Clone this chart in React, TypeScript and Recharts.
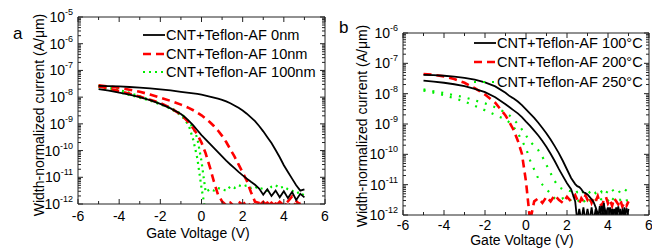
import React from "react";
import { LineChart, Line, XAxis, YAxis, Legend } from "recharts";

const font = "'Liberation Sans', Arial, sans-serif";
const axisColor = "#222";

// gate voltage sweep points (V)
const voltsA = [-5, -4.5, -4, -3.5, -3, -2.5, -2, -1.5, -1, -0.8, -0.6, -0.4, -0.2, 0, 0.2, 0.4, 0.6, 0.8, 1, 1.2, 1.4, 1.6, 1.8, 2, 2.2, 2.4, 2.6, 2.8, 3, 3.2, 3.4, 3.6, 3.8, 4, 4.2, 4.4, 4.6, 4.8, 5];

// log10 of current (A/um) -- panel a
const a0nmUp = [-7.58, -7.59, -7.6, -7.62, -7.64, -7.67, -7.71, -7.75, -7.8, -7.82, -7.84, -7.86, -7.88, -7.91, -7.94, -7.98, -8.02, -8.06, -8.1, -8.16, -8.23, -8.31, -8.4, -8.5, -8.62, -8.76, -8.9, -9.08, -9.28, -9.5, -9.72, -9.98, -10.25, -10.55, -10.8, -11.05, -11.3, -11.5, -11.45];
const a0nmDown = [-7.7, -7.76, -7.83, -7.91, -8.0, -8.11, -8.25, -8.42, -8.63, -8.75, -8.9, -9.06, -9.24, -9.42, -9.58, -9.74, -9.9, -10.06, -10.22, -10.38, -10.52, -10.66, -10.8, -10.93, -11.05, -11.17, -11.28, -11.42, -11.65, -11.45, -11.7, -11.5, -11.75, -11.52, -11.78, -11.55, -11.85, -11.62, -11.75];
const a10nmUp = [-7.56, -7.6, -7.65, -7.72, -7.8, -7.9, -8.02, -8.14, -8.28, -8.34, -8.41, -8.49, -8.58, -8.68, -8.8, -8.93, -9.08, -9.25, -9.45, -9.68, -9.95, -10.22, -10.52, -10.82, -11.13, -11.55, -11.92, -11.96, -12.05, -11.95, -12.1, -11.98, -12.05, -11.95, -12.1, -11.92, -12.05, -11.97, -11.92];
const a10nmDown = [-7.6, -7.68, -7.77, -7.87, -7.98, -8.1, -8.22, -8.4, -8.66, -8.8, -8.97, -9.17, -9.4, -9.7, -10.1, -10.6, -11.15, -11.65, -11.9, -12.05, -11.95, -12.1, -11.92, -12.02, -11.9, -12.1, -11.98, -12.05, -11.92, -12.1, -11.95, -12.08, -11.92, -12.05, -11.9, -11.72, -11.88, -12.05, -11.9];
const a100nmUp = [-7.56, -7.63, -7.73, -7.84, -7.97, -8.1, -8.24, -8.4, -8.62, -8.76, -8.94, -9.15, -9.55, -10.4, -11.55, -11.45, -11.5, -11.4, -11.45, -11.5, -11.35, -11.4, -11.3, -11.35, -11.3, -11.4, -11.35, -11.45, -11.4, -11.5, -11.35, -11.3, -11.4, -11.35, -11.45, -11.5, -11.6, -11.55, -11.7];
const a100nmDown = [-7.62, -7.72, -7.82, -7.92, -8.02, -8.13, -8.27, -8.43, -8.68, -8.85, -9.1, -9.6, -10.3, -11.4, -12.3, -12.2, -12.25, -12.1, -12.2, -12.15, -12.25, -12.1, -12.2, -12.3, -12.15, -12.2, -12.1, -12.25, -12.2, -12.15, -12.3, -12.2, -12.1, -12.25, -12.2, -12.15, -11.95, -12.2, -12.1];

const voltsB = [-5, -4.5, -4, -3.5, -3, -2.5, -2, -1.5, -1, -0.8, -0.6, -0.4, -0.2, 0, 0.2, 0.4, 0.6, 0.8, 1, 1.2, 1.4, 1.6, 1.8, 2, 2.2, 2.4, 2.5, 2.6, 2.7, 2.8, 2.9, 3, 3.1, 3.2, 3.3, 3.4, 3.5, 3.6, 3.7, 3.8, 3.9, 4, 4.1, 4.2, 4.3, 4.4, 4.5, 4.6, 4.7, 4.8, 4.9, 5];

// panel b
const b100Up = [-7.38, -7.39, -7.41, -7.44, -7.48, -7.54, -7.63, -7.76, -7.97, -8.08, -8.16, -8.26, -8.38, -8.52, -8.66, -8.8, -8.96, -9.13, -9.31, -9.51, -9.73, -9.96, -10.22, -10.5, -10.78, -10.98, -11.05, -11.08, -11.15, -11.25, -11.28, -11.32, -11.4, -11.48, -11.58, -11.75, -11.95, -12.1, -11.7, -12.1, -11.85, -12.1, -11.75, -12.1, -11.8, -12.1, -11.72, -12.1, -11.85, -12.1, -11.78, -12.05];
const b100Down = [-7.57, -7.6, -7.64, -7.69, -7.75, -7.84, -7.95, -8.12, -8.35, -8.45, -8.55, -8.65, -8.77, -8.92, -9.06, -9.22, -9.38, -9.56, -9.76, -9.98, -10.22, -10.48, -10.72, -10.95, -11.15, -11.55, -12.2, -11.8, -12.2, -11.75, -12.2, -11.8, -12.2, -11.75, -12.2, -11.8, -12.2, -11.7, -12.2, -11.6, -12.2, -11.75, -12.2, -11.8, -12.2, -11.75, -12.2, -11.8, -12.2, -11.75, -12.2, -11.8];
const b200 = [-7.35, -7.38, -7.43, -7.52, -7.64, -7.82, -8.03, -8.3, -8.72, -8.95, -9.2, -9.55, -9.98, -10.9, -12.2, -11.55, -11.45, -11.6, -11.4, -11.55, -11.35, -11.5, -11.6, -11.4, -11.55, -11.35, -11.5, -11.62, -11.45, -11.55, -11.35, -11.5, -11.4, -11.6, -11.45, -11.55, -11.38, -11.6, -11.7, -11.5, -11.4, -11.62, -11.5, -11.7, -11.45, -11.55, -11.65, -11.5, -11.72, -11.6, -11.7, -11.55];
const b250Up = [-7.86, -7.92, -7.98, -8.05, -8.12, -8.22, -8.32, -8.45, -8.62, -8.72, -8.85, -9.0, -9.18, -9.38, -9.58, -9.72, -9.86, -10.08, -10.35, -10.62, -10.88, -11.08, -11.15, -11.18, -11.22, -11.15, -11.25, -11.2, -11.15, -11.28, -11.22, -11.18, -11.25, -11.15, -11.22, -11.28, -11.2, -11.15, -11.25, -11.2, -11.3, -11.18, -11.22, -11.15, -11.25, -11.2, -11.18, -11.28, -11.22, -11.15, -11.2, -11.25];
const b250Down = [-7.9, -7.97, -8.05, -8.15, -8.26, -8.4, -8.55, -8.7, -8.85, -8.95, -9.1, -9.3, -9.55, -9.8, -10.2, -10.5, -10.8, -11.0, -11.15, -11.3, -11.45, -11.5, -11.45, -11.55, -11.5, -11.45, -11.5, -11.55, -11.45, -11.5, -11.6, -11.48, -11.52, -11.45, -11.55, -11.5, -11.58, -11.45, -11.5, -11.55, -11.48, -11.52, -11.6, -11.45, -11.5, -11.55, -11.48, -11.5, -11.45, -11.55, -11.52, -11.5];

const namesA = ["CNT+Teflon-AF 0nm", "CNT+Teflon-AF 10nm", "CNT+Teflon-AF 100nm"];
const namesB = ["CNT+Teflon-AF 100\u00b0C", "CNT+Teflon-AF 200\u00b0C", "CNT+Teflon-AF 250\u00b0C"];

const xTicks = [-6, -5, -4, -3, -2, -1, 0, 1, 2, 3, 4, 5, 6];
const decadesA = [-12, -11, -10, -9, -8, -7, -6, -5];
const decadesB = [-12, -11, -10, -9, -8, -7, -6];

const stylesA = [
  { color: "#000000", width: 1.8, dash: undefined as string | undefined },
  { color: "#ff0000", width: 2.6, dash: "8 5" },
  { color: "#00ee00", width: 2.2, dash: "2 4" },
];
const stylesB = [
  { color: "#000000", width: 1.8, dash: undefined as string | undefined },
  { color: "#ff0000", width: 2.6, dash: "8 5" },
  { color: "#00ee00", width: 2.2, dash: "2 7" },
];

function logTicks(decades: number[]) {
  const out: number[] = [];
  decades.forEach((d, i) => {
    if (i === decades.length - 1) {
      out.push(Math.pow(10, d));
      return;
    }
    for (let m = 1; m < 10; m++) out.push(m * Math.pow(10, d));
  });
  return out;
}

const isDecade = (v: number) => Math.abs(Math.log10(v) - Math.round(Math.log10(v))) < 1e-6;

function XTick({ x, y, payload, side, labelDy }: any) {
  const v = payload.value as number;
  const major = v % 2 === 0;
  const len = major ? 5 : 3;
  const dir = side === "bottom" ? -1 : 1;
  return (
    <g>
      <line x1={x} x2={x} y1={y} y2={y + dir * len} stroke={axisColor} strokeWidth={1} />
      {labelDy && major && (
        <text x={x} y={y + labelDy} textAnchor="middle" fontSize={14} fontFamily={font} fill="#000">
          {v}
        </text>
      )}
    </g>
  );
}

function YTick({ x, y, payload, side, showLabel }: any) {
  const v = payload.value as number;
  const major = isDecade(v);
  const len = major ? 5 : 3;
  const dir = side === "left" ? 1 : -1;
  return (
    <g>
      <line x1={x} x2={x + dir * len} y1={y} y2={y} stroke={axisColor} strokeWidth={1} />
      {showLabel && major && (
        <text x={x - 5} y={y + 5} textAnchor="end" fontSize={14} fontFamily={font} fill="#000">
          <tspan>10</tspan>
          <tspan dy={-7} fontSize={9}>
            {Math.round(Math.log10(v))}
          </tspan>
        </text>
      )}
    </g>
  );
}

function LegendBox({ names, rowH, styles }: { names: string[]; rowH: number; styles: typeof stylesA }) {
  return (
    <div style={{ fontFamily: font, fontSize: 14.6, color: "#000" }}>
      {names.map((n, i) => (
        <div key={n} style={{ display: "flex", alignItems: "center", height: rowH, whiteSpace: "nowrap" }}>
          <svg width={22} height={10} style={{ marginRight: 1 }}>
            <line
              x1={0}
              x2={22}
              y1={5}
              y2={5}
              stroke={styles[i].color}
              strokeWidth={styles[i].width}
              strokeDasharray={styles[i].dash}
            />
          </svg>
          <span>{n}</span>
        </div>
      ))}
    </div>
  );
}

const rowsA = voltsA.map((v, i) => ({
  v,
  k1: 10 ** a0nmUp[i],
  k2: 10 ** a0nmDown[i],
  r1: 10 ** a10nmUp[i],
  r2: 10 ** a10nmDown[i],
  g1: 10 ** a100nmUp[i],
  g2: 10 ** a100nmDown[i],
}));

const rowsB = voltsB.map((v, i) => ({
  v,
  k1: 10 ** b100Up[i],
  k2: 10 ** b100Down[i],
  r1: 10 ** b200[i],
  g1: 10 ** b250Up[i],
  g2: 10 ** b250Down[i],
}));

function seriesLine(key: string, s: (typeof stylesA)[number]) {
  return (
    <Line
      key={key}
      type="linear"
      dataKey={key}
      stroke={s.color}
      strokeWidth={s.width}
      strokeDasharray={s.dash}
      dot={false}
      activeDot={false}
      legendType="none"
      isAnimationActive={false}
    />
  );
}

// invisible series that ties the mirror (top/right) axes to the data
function frameLine() {
  return (
    <Line
      xAxisId="top"
      yAxisId="right"
      dataKey="k1"
      stroke="none"
      dot={false}
      activeDot={false}
      legendType="none"
      isAnimationActive={false}
    />
  );
}

const yTitle = "Width-normalized current  (A/\u03bcm)";

export default function App() {
  const ticksA = logTicks(decadesA);
  const ticksB = logTicks(decadesB);
  const common = {
    type: "number" as const,
    allowDataOverflow: true,
    interval: 0,
    tickLine: false,
    tickSize: 0,
    tickMargin: 0,
    axisLine: { stroke: axisColor },
  };
  return (
    <div style={{ position: "absolute", left: 0, top: 0, width: 652, height: 248, background: "#fff" }}>
      <div style={{ position: "absolute", left: 0, top: 0 }}>
        <LineChart width={340} height={248} data={rowsA} margin={{ top: 16, right: 14, bottom: 0, left: 0 }}>
          <XAxis
            {...common}
            dataKey="v"
            domain={[-6, 6]}
            ticks={xTicks}
            height={44}
            tick={<XTick side="bottom" labelDy={17} />}
            label={() => (
              <text x={198} y={238} textAnchor="middle" fontSize={14} fontFamily={font} fill="#000">
                Gate Voltage (V)
              </text>
            )}
          />
          <XAxis
            {...common}
            xAxisId="top"
            orientation="top"
            dataKey="v"
            domain={[-6, 6]}
            ticks={xTicks}
            height={1}
            tick={<XTick side="top" />}
            label={() => (
              <text x={13} y={39} fontSize={17} fontFamily={font} fill="#000">
                a
              </text>
            )}
          />
          <YAxis
            {...common}
            scale="log"
            domain={[1e-12, 1e-5]}
            ticks={ticksA}
            width={78}
            tick={<YTick side="left" showLabel />}
            label={() => (
              <text
                x={44}
                y={115}
                transform="rotate(-90 44 115)"
                textAnchor="middle"
                fontSize={14}
                fontFamily={font}
                fill="#000"
              >
                {yTitle}
              </text>
            )}
          />
          <YAxis
            {...common}
            yAxisId="right"
            orientation="right"
            scale="log"
            domain={[1e-12, 1e-5]}
            ticks={ticksA}
            width={1}
            tick={<YTick side="right" />}
          />
          <Legend
            layout="vertical"
            align="center"
            verticalAlign="middle"
            wrapperStyle={{ left: 143, top: 26, width: 180 }}
            content={() => <LegendBox names={namesA} rowH={18.5} styles={stylesA} />}
          />
          {frameLine()}
          {seriesLine("g1", stylesA[2])}
          {seriesLine("g2", stylesA[2])}
          {seriesLine("r1", stylesA[1])}
          {seriesLine("r2", stylesA[1])}
          {seriesLine("k1", stylesA[0])}
          {seriesLine("k2", stylesA[0])}
        </LineChart>
      </div>
      <div style={{ position: "absolute", left: 326, top: 0 }}>
        <LineChart width={326} height={248} data={rowsB} margin={{ top: 32, right: 2, bottom: 0, left: 0 }}>
          <XAxis
            {...common}
            dataKey="v"
            domain={[-6, 6]}
            ticks={xTicks}
            height={33}
            tick={<XTick side="bottom" labelDy={15} />}
            label={() => (
              <text x={196} y={245} textAnchor="middle" fontSize={14} fontFamily={font} fill="#000">
                Gate Voltage (V)
              </text>
            )}
          />
          <XAxis
            {...common}
            xAxisId="top"
            orientation="top"
            dataKey="v"
            domain={[-6, 6]}
            ticks={xTicks}
            height={1}
            tick={<XTick side="top" />}
            label={() => (
              <text x={13} y={33} fontSize={17} fontFamily={font} fill="#000">
                b
              </text>
            )}
          />
          <YAxis
            {...common}
            scale="log"
            domain={[1e-12, 1e-6]}
            ticks={ticksB}
            width={77}
            tick={<YTick side="left" showLabel />}
            label={() => (
              <text
                x={41}
                y={126}
                transform="rotate(-90 41 126)"
                textAnchor="middle"
                fontSize={14}
                fontFamily={font}
                fill="#000"
              >
                {yTitle}
              </text>
            )}
          />
          <YAxis
            {...common}
            yAxisId="right"
            orientation="right"
            scale="log"
            domain={[1e-12, 1e-6]}
            ticks={ticksB}
            width={1}
            tick={<YTick side="right" />}
          />
          <Legend
            layout="vertical"
            align="center"
            verticalAlign="middle"
            wrapperStyle={{ left: 148, top: 33, width: 178 }}
            content={() => <LegendBox names={namesB} rowH={19.5} styles={stylesB} />}
          />
          {frameLine()}
          {seriesLine("g1", stylesB[2])}
          {seriesLine("g2", stylesB[2])}
          {seriesLine("r1", stylesB[1])}
          {seriesLine("k1", stylesB[0])}
          {seriesLine("k2", stylesB[0])}
        </LineChart>
      </div>
    </div>
  );
}
